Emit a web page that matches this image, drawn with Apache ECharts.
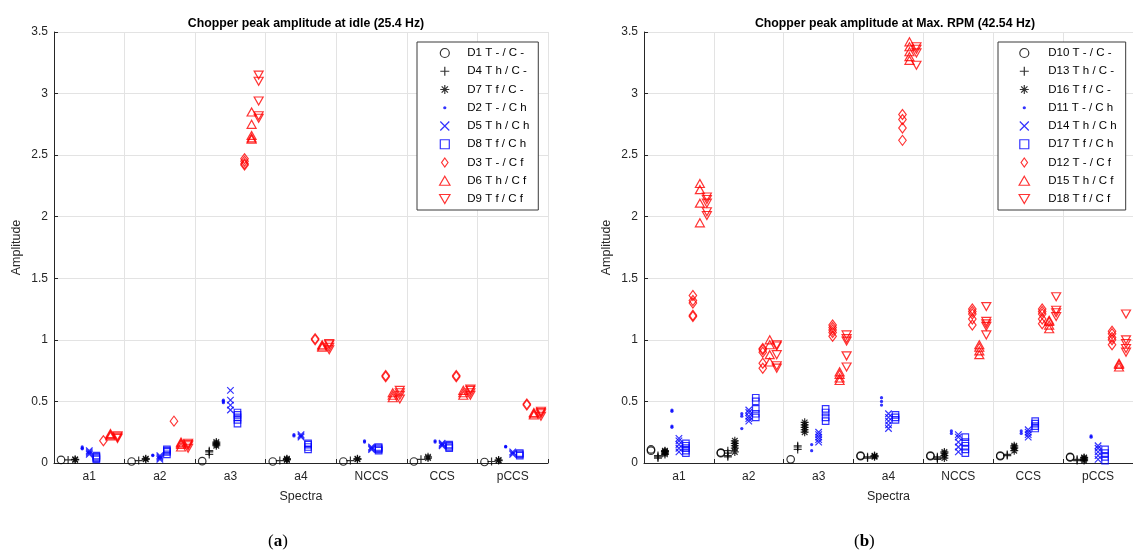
<!DOCTYPE html>
<html>
<head>
<meta charset="utf-8">
<script src="https://cdn.jsdelivr.net/npm/echarts@6/dist/echarts.min.js"></script>
<style>
  html, body { margin: 0; padding: 0; background: #fff; }
  #chart { width: 1133px; height: 556px; }
</style>
</head>
<body>
<div id="chart"></div>
<script>
// categories on the x axis
const CATS = ['a1', 'a2', 'a3', 'a4', 'NCCS', 'CCS', 'pCCS'];

const IDLE_NAMES = ['D1 T - / C -', 'D4 T h / C -', 'D7 T f / C -', 'D2 T - / C h', 'D5 T h / C h',
  'D8 T f / C h', 'D3 T - / C f', 'D6 T h / C f', 'D9 T f / C f'];
const MAX_NAMES = ['D10 T - / C -', 'D13 T h / C -', 'D16 T f / C -', 'D11 T - / C h', 'D14 T h / C h',
  'D17 T f / C h', 'D12 T - / C f', 'D15 T h / C f', 'D18 T f / C f'];

// (a) idle, 25.4 Hz -- one list of repeats per category
const D1 = [[0.025], [0.012], [0.015], [0.012], [0.012], [0.012], [0.008]];
const D4 = [[0.025], [0.02], [0.07, 0.09, 0.1], [0.02], [0.02], [0.03], [0.012]];
const D7 = [[0.025, 0.03], [0.03, 0.035], [0.14, 0.15, 0.16, 0.17], [0.025, 0.03, 0.035], [0.03, 0.035], [0.04, 0.05], [0.02, 0.025]];
const D2 = [[0.13, 0.12, 0.115], [0.06, 0.065], [0.5, 0.51, 0.49], [0.23, 0.22], [0.17, 0.18], [0.17, 0.18], [0.13, 0.135]];
const D5 = [[0.07, 0.08, 0.09, 0.1], [0.03, 0.04, 0.05, 0.06], [0.43, 0.47, 0.51, 0.59], [0.21, 0.22, 0.23], [0.11, 0.12, 0.13], [0.14, 0.15, 0.16], [0.07, 0.08, 0.09]];
const D8 = [[0.03, 0.04, 0.05, 0.06], [0.07, 0.09, 0.1, 0.11], [0.32, 0.35, 0.37, 0.39, 0.41], [0.11, 0.13, 0.15, 0.16], [0.1, 0.11, 0.12, 0.13], [0.12, 0.13, 0.14, 0.15], [0.06, 0.07, 0.08]];
const D3 = [[0.18], [0.34], [2.42, 2.43, 2.45, 2.47], [1.0, 1.01], [0.7, 0.71], [0.7, 0.71], [0.47, 0.48]];
const D6 = [[0.22, 0.23, 0.24], [0.13, 0.15, 0.16, 0.17], [2.63, 2.64, 2.66, 2.75, 2.85], [0.94, 0.95, 0.96], [0.53, 0.55, 0.57], [0.55, 0.57, 0.59], [0.39, 0.4, 0.41]];
const D9 = [[0.2, 0.21, 0.22], [0.12, 0.14, 0.15, 0.16], [2.8, 2.82, 2.94, 3.1, 3.15], [0.92, 0.94, 0.96, 0.97], [0.52, 0.55, 0.57, 0.59], [0.55, 0.57, 0.59, 0.6], [0.38, 0.4, 0.41, 0.42]];

// (b) max RPM, 42.54 Hz
const D10 = [[0.1, 0.11], [0.08, 0.085], [0.03], [0.055, 0.06], [0.055, 0.06], [0.055, 0.06], [0.045, 0.05]];
const D13 = [[0.04, 0.05, 0.06], [0.05, 0.06, 0.08, 0.1], [0.11, 0.13, 0.14], [0.04, 0.05], [0.03, 0.04, 0.05], [0.06, 0.07], [0.02, 0.03]];
const D16 = [[0.07, 0.08, 0.09, 0.095, 0.1], [0.09, 0.12, 0.14, 0.16, 0.18], [0.25, 0.27, 0.29, 0.31, 0.33], [0.05, 0.055, 0.06], [0.04, 0.06, 0.08, 0.09], [0.1, 0.12, 0.13, 0.14], [0.02, 0.03, 0.04, 0.045]];
const D11 = [[0.43, 0.42, 0.3, 0.29], [0.4, 0.38, 0.28], [0.15, 0.1], [0.53, 0.5, 0.47], [0.26, 0.24], [0.26, 0.24], [0.22, 0.21]];
const D14 = [[0.09, 0.12, 0.15, 0.18, 0.2], [0.34, 0.36, 0.38, 0.41, 0.43], [0.17, 0.19, 0.21, 0.23, 0.25], [0.28, 0.31, 0.34, 0.37, 0.4], [0.09, 0.13, 0.17, 0.21, 0.23], [0.21, 0.23, 0.25, 0.27], [0.03, 0.06, 0.09, 0.12, 0.14]];
const D17 = [[0.08, 0.1, 0.12, 0.14, 0.16], [0.37, 0.4, 0.44, 0.5, 0.53], [0.34, 0.37, 0.41, 0.44], [0.35, 0.37, 0.39], [0.08, 0.11, 0.14, 0.17, 0.21], [0.28, 0.3, 0.32, 0.34], [0.02, 0.05, 0.08, 0.11]];
const D12 = [[1.19, 1.2, 1.3, 1.32, 1.36], [0.77, 0.81, 0.9, 0.92, 0.93], [1.03, 1.06, 1.08, 1.1, 1.12], [2.62, 2.72, 2.79, 2.83], [1.12, 1.17, 1.21, 1.23, 1.25], [1.13, 1.17, 1.21, 1.23, 1.25], [0.96, 1.0, 1.02, 1.05, 1.07]];
const D15 = [[1.95, 2.11, 2.22, 2.27], [0.82, 0.88, 0.96, 1.0], [0.67, 0.69, 0.72, 0.74], [3.27, 3.3, 3.34, 3.38, 3.42], [0.88, 0.91, 0.94, 0.96], [1.09, 1.12, 1.15, 1.16], [0.78, 0.8, 0.81]];
const D18 = [[2.01, 2.04, 2.11, 2.14, 2.16], [0.77, 0.79, 0.88, 0.95, 0.96], [0.78, 0.87, 0.99, 1.01, 1.04], [3.23, 3.33, 3.36, 3.38], [1.04, 1.11, 1.13, 1.15, 1.27], [1.19, 1.22, 1.24, 1.35], [0.9, 0.93, 0.97, 1.0, 1.21]];

const IDLE_SETS = [D1, D4, D7, D2, D5, D8, D3, D6, D9];
const MAX_SETS = [D10, D13, D16, D11, D14, D17, D12, D15, D18];

const FONT = '"Liberation Sans", Arial, sans-serif';
const INK = '#262626';

// matlab-ish markers: o + * . x s d ^ v  (paths so the legend keeps their shape)
const MARKERS = [
  { symbol: 'circle', size: 7.5, color: '#000' },
  { symbol: 'path://M5,0L5,10M0,5L10,5', size: 8, color: '#000' },
  { symbol: 'path://M5,0L5,10M0,5L10,5M1.5,1.5L8.5,8.5M8.5,1.5L1.5,8.5', size: 8, color: '#000' },
  { symbol: 'path://M0,0L0,0M10,10L10,10M3.2,5A1.8,1.8,0,1,0,6.8,5A1.8,1.8,0,1,0,3.2,5Z', size: 9, color: '#0000ff', filled: true },
  { symbol: 'path://M0,0L10,10M10,0L0,10', size: 6.5, color: '#0000ff' },
  { symbol: 'path://M0,0L10,0L10,10L0,10Z', size: 6.5, color: '#0000ff' },
  { symbol: 'path://M5,0L10,7L5,14L0,7Z', size: [7.5, 10], color: '#ff0000' },
  { symbol: 'path://M5,0L10,8.66L0,8.66Z', size: [9, 8], color: '#ff0000' },
  { symbol: 'path://M0,0L10,0L5,8.66Z', size: [9, 8], color: '#ff0000' }
];

function buildSeries(sets, names, xIdx, yIdx) {
  return sets.map((set, si) => {
    const m = MARKERS[si];
    const data = [];
    set.forEach((vals, ci) => {
      vals.forEach(v => data.push([ci + 0.5 + (si - 4) * 0.1, v]));
    });
    return {
      name: names[si],
      type: 'scatter',
      xAxisIndex: xIdx,
      yAxisIndex: yIdx,
      symbol: m.symbol,
      symbolSize: m.size,
      itemStyle: m.filled
        ? { color: m.color, borderWidth: 0 }
        : { color: 'rgba(0,0,0,0)', borderColor: m.color, borderWidth: 1.2 },
      emphasis: { disabled: true },
      data: data
    };
  });
}

function valueX(grid) {
  return {
    type: 'value', gridIndex: grid, min: 0, max: 7, interval: 1,
    axisLabel: { show: false },
    axisLine: { show: true, onZero: false, lineStyle: { color: INK, width: 1 } },
    axisTick: { show: true, inside: true, length: 4, lineStyle: { color: INK } },
    splitLine: { show: true, lineStyle: { color: '#e3e3e3', width: 1 } }
  };
}

function catX(grid) {
  return {
    type: 'category', gridIndex: grid, data: CATS, position: 'bottom',
    axisLine: { show: false }, axisTick: { show: false }, splitLine: { show: false },
    axisLabel: { color: INK, fontSize: 12, fontFamily: FONT, margin: 8 },
    name: 'Spectra', nameLocation: 'middle', nameGap: 27,
    nameTextStyle: { color: INK, fontSize: 12.5, fontFamily: FONT }
  };
}

function valueY(grid) {
  return {
    type: 'value', gridIndex: grid, min: 0, max: 3.5, interval: 0.5,
    axisLine: { show: true, lineStyle: { color: INK, width: 1 } },
    axisTick: { show: true, inside: true, length: 4, lineStyle: { color: INK } },
    axisLabel: { color: INK, fontSize: 12, fontFamily: FONT, margin: 6 },
    splitLine: { show: true, lineStyle: { color: '#e3e3e3', width: 1 } },
    name: 'Amplitude', nameLocation: 'middle', nameGap: 31,
    nameTextStyle: { color: INK, fontSize: 12.5, fontFamily: FONT }
  };
}

// the box is laid out from the icons' real extent, so padLeft counts from the icon edge
function legend(names, left, itemWidth, padLeft) {
  return {
    orient: 'vertical', left: left, top: 42, data: names,
    padding: [5, 9, 5, padLeft],
    itemWidth: itemWidth, itemHeight: 9, itemGap: 6.25,
    backgroundColor: '#fff', borderColor: '#3a3a3a', borderWidth: 1,
    selectedMode: false,
    itemStyle: { borderWidth: 1.2 },
    textStyle: { color: '#000', fontSize: 11.5, fontFamily: FONT, lineHeight: 9, padding: 0 }
  };
}

const chart = echarts.init(document.getElementById('chart'));
chart.setOption({
  animation: false,
  backgroundColor: '#fff',
  title: [
    { text: 'Chopper peak amplitude at idle (25.4 Hz)', left: 301, top: 13, textAlign: 'center',
      textStyle: { fontSize: 12.3, fontWeight: 'bold', color: '#000', fontFamily: FONT } },
    { text: 'Chopper peak amplitude at Max. RPM (42.54 Hz)', left: 890, top: 13, textAlign: 'center',
      textStyle: { fontSize: 12.3, fontWeight: 'bold', color: '#000', fontFamily: FONT } }
  ],
  grid: [
    { left: 54, top: 32, width: 494, height: 431 },
    { left: 644, top: 32, width: 493, height: 431 }
  ],
  xAxis: [valueX(0), catX(0), valueX(1), catX(1)],
  yAxis: [valueY(0), valueY(1)],
  legend: [
    legend(IDLE_NAMES, 417, 35, 22),
    legend(MAX_NAMES, 998, 38, 20.5)
  ],
  series: buildSeries(IDLE_SETS, IDLE_NAMES, 0, 0).concat(buildSeries(MAX_SETS, MAX_NAMES, 2, 1)),
  graphic: [
    { type: 'text', left: 268, top: 533,
      style: { text: '({b|a})', fill: '#000', font: '17px "Liberation Serif", serif',
        rich: { b: { fontWeight: 'bold', fontSize: 17, fontFamily: '"Liberation Serif", serif' } } } },
    { type: 'text', left: 854, top: 533,
      style: { text: '({b|b})', fill: '#000', font: '17px "Liberation Serif", serif',
        rich: { b: { fontWeight: 'bold', fontSize: 17, fontFamily: '"Liberation Serif", serif' } } } }
  ]
});
</script>
</body>
</html>
